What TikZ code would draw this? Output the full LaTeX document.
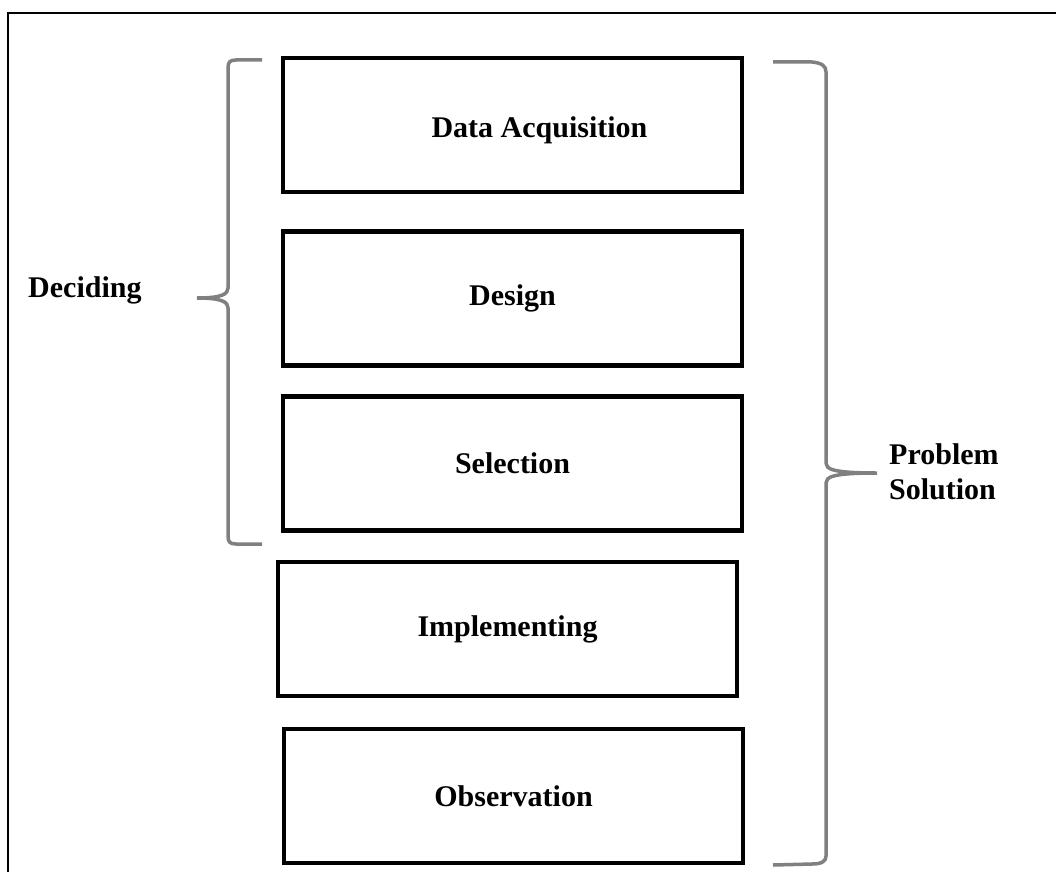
\documentclass[tikz,border=0pt]{standalone}
\usepackage{fontspec}
\setmainfont{Liberation Serif}
\definecolor{bracegray}{RGB}{128,128,128}
\tikzset{
  stagebox/.style={draw, line width=4.5pt, minimum width=459pt, minimum height=134pt, inner sep=0pt, font=\fontsize{30}{35}\selectfont\bfseries},
  bracepath/.style={draw=bracegray, line width=3.5pt, line join=miter},
  sidetext/.style={font=\fontsize{30}{35}\selectfont\bfseries, align=left, anchor=west, inner sep=0pt}
}
\begin{document}
\begin{tikzpicture}[x=1pt, y=-1pt]
      \useasboundingbox (0,0) rectangle (1056,872);

      %frame
      \draw[line width=2pt] (8,872) -- (8,13) -- (1056,13);

      %stages
      \node[stagebox, name=acq, label={[xshift=27pt, yshift=-5pt, font=\fontsize{30}{35}\selectfont\bfseries]center:Data Acquisition}] at (512.5,125)   {};
      \node[stagebox, name=design   ] at (512.5,298.5) {Design};
      \node[stagebox, name=selection] at (512.5,463.5) {Selection};
      \node[stagebox, name=impl     ] at (507.5,629)   {Implementing};
      \node[stagebox, name=obs      ] at (513.5,796)   {Observation};

      %braces
      \coordinate (decTip) at (197,298);
      \coordinate (solTip) at (877,473);
      \draw[bracepath] (262,60) -- (236,60) .. controls (230,60) and (228,62) .. (228,68)
            -- (228,288) .. controls (228,294) and (222,298) .. (decTip)
            .. controls (222,298) and (228,302) .. (228,308)
            -- (228,536) .. controls (228,542) and (230,544) .. (236,544) -- (262,544);
      \draw[bracepath] (773,62) -- (812,62) .. controls (822,63) and (826,66) .. (826,72)
            -- (826,463) .. controls (826,469) and (832,473) .. (solTip)
            .. controls (832,473) and (826,477) .. (826,483)
            -- (826,856) .. controls (826,861) and (822,864) .. (812,864) -- (773,865);

      %labels
      \node[sidetext, name=deciding] at (28,290) {Deciding};
      \node[sidetext, name=solution] at (889,472) {Problem\\Solution};
\end{tikzpicture}
\end{document}
